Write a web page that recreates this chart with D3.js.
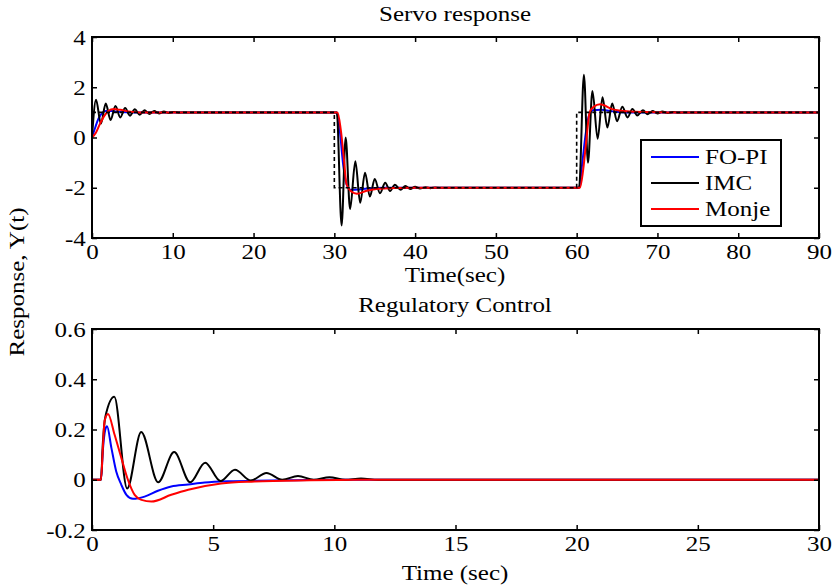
<!DOCTYPE html>
<html>
<head>
<meta charset="utf-8">
<script src="https://cdn.jsdelivr.net/npm/d3@7"></script>
<style>
  body { margin: 0; background: #fff; }
  svg { display: block; font-family: "Liberation Serif", "Times New Roman", serif; }
  .axis text { font-family: "Liberation Serif", "Times New Roman", serif; fill: #000; }
  .axis line { stroke: #000; stroke-width: 1.5; }
</style>
</head>
<body>
<div id="chart"></div>
<script>
// Servo / regulatory response figure (two stacked MATLAB-style panels)

const width = 835;
const height = 586;

// ---------- Data: [time, value] ----------

// set-point (dashed)
const servoSetpoint = [[0, 1], [30, 1], [30, -2], [60, -2], [60, 1], [90, 1]];

const servoFOPI = [
    [0, 0], [0.4, 0.4], [0.8, 0.75], [1.2, 0.95], [1.7, 1.05], [2.5, 1.05], [3.5, 1.01], [5, 1],
    [30.3, 1], [30.7, 0.2], [31.1, -1.1], [31.5, -1.85], [32, -2.08], [33, -2.07], [34.5, -2.02], [36, -2],
    [60.3, -2], [60.7, -1.0], [61.1, 0.1], [61.5, 0.85], [62, 1.08], [63, 1.1], [64.5, 1.04], [66, 1], [90, 1]
];

const servoIMC = [
    [0, 0], [0.5, 1.5], [1.1, 0.55], [1.7, 1.35], [2.3, 0.7], [2.9, 1.25], [3.5, 0.8], [4.1, 1.17],
    [4.7, 0.87], [5.3, 1.12], [5.9, 0.91], [6.5, 1.08], [7.1, 0.94], [7.7, 1.05], [8.3, 0.96],
    [8.9, 1.03], [9.5, 0.98], [10.1, 1.015], [10.7, 0.99], [11.5, 1],
    [30.3, 1], [30.9, -3.5], [31.4, 0], [31.95, -2.85], [32.6, -0.95], [33.2, -2.6], [33.8, -1.4],
    [34.4, -2.35], [35.0, -1.65], [35.65, -2.22], [36.3, -1.8], [36.9, -2.13], [37.5, -1.88],
    [38.2, -2.08], [38.8, -1.93], [39.4, -2.05], [40.0, -1.96], [40.6, -2.03], [41.3, -1.98],
    [41.9, -2.015], [42.5, -1.99], [43.5, -2],
    [60.3, -2], [60.9, 2.5], [61.4, -1.0], [61.95, 1.85], [62.6, -0.05], [63.2, 1.6], [63.8, 0.4],
    [64.4, 1.35], [65.0, 0.65], [65.65, 1.22], [66.3, 0.8], [66.9, 1.13], [67.5, 0.88],
    [68.2, 1.08], [68.8, 0.93], [69.4, 1.05], [70.0, 0.96], [70.6, 1.03], [71.3, 0.98],
    [71.9, 1.015], [72.5, 0.99], [73.5, 1], [90, 1]
];

const servoMonje = [
    [0, 0], [0.5, 0.2], [1.0, 0.55], [1.5, 0.85], [2.0, 1.05], [2.7, 1.13], [3.5, 1.1], [4.5, 1.04], [6, 1],
    [30.4, 1], [30.8, 0.3], [31.2, -0.9], [31.5, -1.85], [32.1, -2.15], [32.8, -2.24], [34, -2.12],
    [35.2, -2.05], [37.5, -2.01], [40, -2],
    [60.4, -2], [60.8, -1.3], [61.2, -0.1], [61.6, 1.0], [62.1, 1.22], [62.9, 1.32], [64.5, 1.12],
    [66.2, 1.04], [68.5, 1.01], [71, 1], [90, 1]
];

const regFOPI = [
    [0, 0], [0.37, 0], [0.45, 0.12], [0.55, 0.2], [0.62, 0.213], [0.8, 0.127], [1.0, 0.033],
    [1.21, -0.02], [1.42, -0.06], [1.69, -0.076], [2.17, -0.067], [2.72, -0.044], [3.27, -0.027],
    [3.97, -0.019], [4.65, -0.011], [5.6, -0.006], [8, -0.002], [10, 0], [30, 0]
];

const regIMC = [
    [0, 0], [0.37, 0], [0.45, 0.15], [0.55, 0.25], [0.92, 0.33], [1.45, -0.035], [2.03, 0.19],
    [2.73, -0.01], [3.39, 0.11], [4.05, -0.01], [4.67, 0.068], [5.3, -0.005], [5.9, 0.04],
    [6.55, -0.003], [7.2, 0.027], [7.85, 0], [8.5, 0.015], [9.15, 0], [9.8, 0.01], [10.45, 0],
    [11.1, 0.005], [11.8, 0], [30, 0]
];

const regMonje = [
    [0, 0], [0.37, 0], [0.45, 0.13], [0.52, 0.235], [0.66, 0.262], [0.93, 0.18], [1.21, 0.087],
    [1.46, 0.006], [1.76, -0.06], [2.04, -0.08], [2.45, -0.087], [3.27, -0.06], [3.97, -0.04],
    [5.33, -0.015], [6.7, -0.007], [9, -0.002], [11, 0], [30, 0]
];

// ticks
const servoXTicks = [0, 10, 20, 30, 40, 50, 60, 70, 80, 90];
const servoYTicks = [-4, -2, 0, 2, 4];
const regXTicks = [0, 5, 10, 15, 20, 25, 30];
const regYTicks = [-0.2, 0, 0.2, 0.4, 0.6];

const legendNames = ["FO-PI", "IMC", "Monje"];
const seriesColors = ["#0000ff", "#000000", "#ff0000"];

// ---------- Layout ----------

const plotLeft = 92;
const plotRight = 819;
const textStretch = 1.25;

const svg = d3.select("#chart")
    .append("svg")
    .attr("width", width)
    .attr("height", height);

function addText(x, y, str, size, anchor, rotate) {
    return svg.append("text")
        .attr("transform", `translate(${x},${y})` + (rotate ? ` rotate(${rotate})` : "") + ` scale(${textStretch},1)`)
        .attr("text-anchor", anchor)
        .style("font-size", size + "px")
        .text(str);
}

function drawPanel(top, bottom, xDomain, yDomain, xTicks, yTicks, series, dashed, clipId) {
    const x = d3.scaleLinear().domain(xDomain).range([plotLeft, plotRight]);
    const y = d3.scaleLinear().domain(yDomain).range([bottom, top]);

    svg.append("clipPath").attr("id", clipId)
        .append("rect")
        .attr("x", plotLeft).attr("y", top)
        .attr("width", plotRight - plotLeft).attr("height", bottom - top);

    const line = d3.line()
        .x(d => x(d[0]))
        .y(d => y(d[1]))
        .curve(d3.curveMonotoneX);

    const g = svg.append("g").attr("clip-path", `url(#${clipId})`);

    series.forEach((s, i) => {
        g.append("path")
            .attr("d", line(s))
            .attr("fill", "none")
            .attr("stroke", seriesColors[i])
            .attr("stroke-width", 2);
    });

    if (dashed) {
        g.append("path")
            .attr("d", d3.line().x(d => x(d[0])).y(d => y(d[1]))(dashed))
            .attr("fill", "none")
            .attr("stroke", "#000")
            .attr("stroke-width", 1.6)
            .attr("stroke-dasharray", "4,3");
    }

    // axes with inward ticks on all four sides; plain hyphen for negatives
    const fmt = d => String(d);
    const bottomAxis = svg.append("g").attr("class", "axis")
        .attr("transform", `translate(0,${bottom})`)
        .call(d3.axisBottom(x).tickValues(xTicks).tickSizeInner(-5).tickSizeOuter(0).tickPadding(7).tickFormat(fmt));
    const leftAxis = svg.append("g").attr("class", "axis")
        .attr("transform", `translate(${plotLeft},0)`)
        .call(d3.axisLeft(y).tickValues(yTicks).tickSizeInner(-5).tickSizeOuter(0).tickPadding(5).tickFormat(fmt));
    svg.append("g").attr("class", "axis")
        .attr("transform", `translate(0,${top})`)
        .call(d3.axisTop(x).tickValues(xTicks).tickSizeInner(-5).tickSizeOuter(0).tickFormat(""));
    svg.append("g").attr("class", "axis")
        .attr("transform", `translate(${plotRight},0)`)
        .call(d3.axisRight(y).tickValues(yTicks).tickSizeInner(-5).tickSizeOuter(0).tickFormat(""));

    svg.selectAll(".axis .domain").remove();

    [bottomAxis, leftAxis].forEach(a => {
        a.selectAll("text")
            .style("font-size", "20px")
            .attr("transform", `scale(${textStretch},1)`);
    });
    leftAxis.selectAll("text").attr("dy", "0.35em");

    svg.append("rect")
        .attr("x", plotLeft).attr("y", top)
        .attr("width", plotRight - plotLeft).attr("height", bottom - top)
        .attr("fill", "none")
        .attr("stroke", "#000")
        .attr("stroke-width", 2);

    return { x, y };
}

// ---------- Top panel: servo response ----------

drawPanel(37, 238, [0, 90], [-4, 4], servoXTicks, servoYTicks,
    [servoFOPI, servoIMC, servoMonje], servoSetpoint, "clipTop");

addText(455, 21, "Servo response", 20, "middle");
addText(455, 282, "Time(sec)", 20, "middle");

// legend
const legend = svg.append("g");
legend.append("rect")
    .attr("x", 641).attr("y", 140)
    .attr("width", 140).attr("height", 86)
    .attr("fill", "#fff")
    .attr("stroke", "#000")
    .attr("stroke-width", 2);

legendNames.forEach((name, i) => {
    const ly = 157 + i * 26;
    legend.append("line")
        .attr("x1", 651).attr("x2", 699)
        .attr("y1", ly).attr("y2", ly)
        .attr("stroke", seriesColors[i])
        .attr("stroke-width", 2);
    addText(705, ly + 7, name, 20, "start");
});

// ---------- Bottom panel: regulatory control ----------

drawPanel(329, 530, [0, 30], [-0.2, 0.6], regXTicks, regYTicks,
    [regFOPI, regIMC, regMonje], null, "clipBottom");

addText(455, 312, "Regulatory Control", 20, "middle");
addText(455, 580, "Time (sec)", 20, "middle");

// shared y label
addText(24, 282, "Response, Y(t)", 20, "middle", -90);
</script>
</body>
</html>
